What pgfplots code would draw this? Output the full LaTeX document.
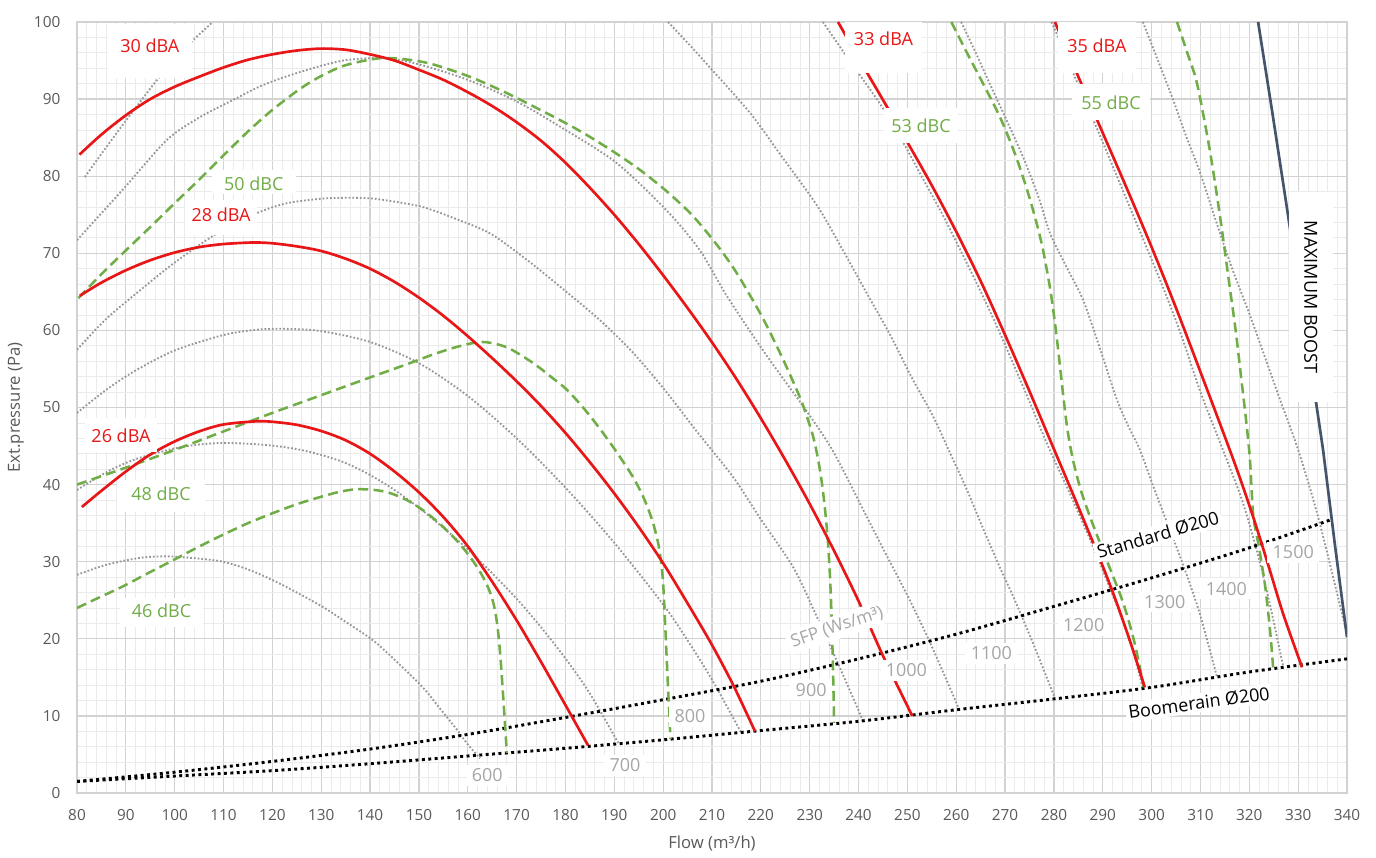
\documentclass[border=0pt]{standalone}
\usepackage{fontspec}
\setmainfont{Open Sans}
\usepackage{pgfplots}
\pgfplotsset{compat=1.18}
\usetikzlibrary{calc}
\definecolor{cRed}{RGB}{232,22,22}
\definecolor{cGreen}{RGB}{112,173,71}
\definecolor{cGray}{RGB}{150,150,150}
\definecolor{cNavy}{RGB}{68,84,106}
\definecolor{cTick}{RGB}{89,89,89}
\definecolor{cNum}{RGB}{166,166,166}
\definecolor{cMajor}{RGB}{210,210,210}
\definecolor{cMinor}{RGB}{235,235,235}
\pgfplotsset{
  redc/.style={cRed, line width=2pt, smooth, tension=0.5},
  grnc/.style={cGreen, line width=1.9pt, dash pattern=on 7.5pt off 4pt, smooth, tension=0.5},
  sfp/.style={cGray, line width=1.4pt, dash pattern=on 1.3pt off 1.5pt, smooth, tension=0.5},
  duct/.style={black, line width=2.2pt, dash pattern=on 2.2pt off 2.6pt, smooth},
}
\tikzset{
  lab/.style n args={3}{fill=white, inner xsep=0pt, inner ysep=0pt, minimum width=#1, text height=#2, text depth=#3, anchor=base, font=\fontsize{13.5}{16}\selectfont},
  num/.style={fill=white, inner xsep=4pt, inner ysep=3pt, text=cNum, font=\fontsize{13.5}{16}\selectfont},
}
\begin{document}
\begin{tikzpicture}
\begin{axis}[
  scale only axis, width=952.5pt, height=578.25pt,
  xmin=80, xmax=340, ymin=0, ymax=100,
  xtick={80,90,...,340}, ytick={0,10,...,100},
  minor x tick num=4, minor y tick num=4,
  grid=both,
  major grid style={cMajor, line width=0.9pt},
  minor grid style={cMinor, line width=0.6pt},
  axis line style={cMajor, line width=0.9pt},
  major tick length=0pt, minor tick length=0pt,
  /pgf/number format/assume math mode=true,
  tick label style={font=\fontsize{11.5}{13}\selectfont, text=cTick},
  xticklabel style={anchor=center, yshift=-16.5pt},
  yticklabel style={anchor=east, xshift=-9pt},
  xlabel={Flow (m³/h)}, ylabel={Ext.pressure (Pa)},
  every axis x label/.style={at={(axis description cs:0.5,-0.066)}, anchor=center, font=\fontsize{12.5}{14}\selectfont, text=cTick},
  every axis y label/.style={at={(axis description cs:-0.048,0.5)}, anchor=center, rotate=90, font=\fontsize{12.5}{14}\selectfont, text=cTick},
]
\coordinate (sw) at (rel axis cs:0,0);
\coordinate (ne) at (rel axis cs:1,1);

% SFP iso-lines
\addplot[sfp] coordinates {(80,28.3)(86,29.6)(92.9,30.5)(98,30.7)(101.1,30.6)(105,30.4)(109.9,30)(115,29)(120.1,27.6)(125,26)(130.4,24.1)(135,22.2)(140.6,19.8)(145,17.3)(150.8,13.7)(154,11.2)(157.8,8.2)(160,6.3)(162.5,4.5)};
\addplot[sfp] coordinates {(80,39.3)(86,41.6)(92,43.3)(100,44.7)(105,45.2)(110,45.4)(115,45.3)(120,45.05)(125,44.6)(130,43.85)(135,42.8)(140,41.25)(145,39.3)(150,37.0)(155,34.4)(160,31.6)(165,28.5)(170,25.2)(175,21.5)(180,17.45)(185,12.9)(190.8,6.5)};
\addplot[sfp] coordinates {(80,49.3)(86,52.3)(92,54.8)(100,57.4)(110,59.4)(117,60.1)(123,60.2)(130,59.9)(140,58.5)(150,55.75)(160,51.5)(170,46.0)(180,39.6)(190,32.45)(200,24.45)(205,19.8)(210,14.7)(216,7.8)};
\addplot[sfp] coordinates {(80,57.5)(86,61.5)(92.9,65.2)(100,68.8)(108.7,72.6)(116.8,75.2)(123,76.5)(130.4,77.1)(136,77.2)(140.6,77.1)(145,76.7)(150.8,76)(157,74.6)(164.5,72.6)(172,69.2)(180,65.1)(187.1,61.3)(194,57)(200.8,51.9)(207,46.8)(214.3,41)(220,35.5)(226.6,29.3)(231,23.5)(236,16.5)(240.9,9.4)};
\addplot[sfp] coordinates {(80,71.7)(85,75.2)(90,78.7)(98.4,84.7)(105,87.6)(112,89.9)(118,91.8)(125.6,93.5)(134.5,95)(143,95.3)(150,94.5)(160,92.5)(170,89.7)(180,86)(190.5,81.7)(200.8,75.5)(207.5,70.4)(213,64.5)(219.8,58)(224.5,53.8)(229.4,49.5)(234.8,44.3)(241.7,35.8)(246,30.5)(250.5,25)(255,19)(260.5,11)};
\addplot[sfp] coordinates {(81.6,79.9)(85,82.9)(90,87.2)(96.4,92.5)(100,95.2)(103.7,97.6)(107.8,100)};
\addplot[sfp] coordinates {(201,100)(205,97.3)(210,93.8)(217.8,88.2)(224,82.8)(231.5,76.2)(236.8,70.4)(241.7,64.8)(246.4,59.5)(250.8,54)(255.3,48.8)(258.8,44)(262.2,39.3)(265.5,34.3)(268.9,29.3)(272,25)(276,19)(280.2,12.3)};
\addplot[sfp] coordinates {(232.7,100)(237.6,95.5)(240.3,93.1)(245,88.8)(249.2,84.3)(253.5,79.3)(257.7,74.4)(264.5,65.7)(268.9,59.7)(274.5,51.5)(278.8,45)(283.5,38.5)(288,32)(291,27.3)(293.5,23.3)(296,18.8)(298.2,13.6)};
\addplot[sfp] coordinates {(261,100)(264,96)(267,91.8)(270.5,87)(274,82)(277,77)(279.2,72.6)(282.6,68.2)(286,63.9)(289.5,57.5)(292.9,51)(295.3,47.5)(297.6,44.5)(300.5,39.5)(303.5,34.5)(306.5,29.5)(309.5,24)(311.5,19.5)(313.4,15)};
\addplot[sfp] coordinates {(279.5,100)(282,96.4)(284,93.3)(288.2,87.1)(295.2,76.5)(302,66.1)(306,59.5)(310,52)(314.6,44.5)(318.5,38)(321.5,31.5)(324.2,24.5)(326.9,16.5)};
\addplot[sfp] coordinates {(298.2,100)(301,95.5)(304.4,89.9)(307,85.3)(309.9,80.5)(313,74.5)(316.5,68)(320.1,62)(323.5,56)(326.3,51)(330,44.5)(334,36)(338.5,24.5)(340,20.5)};

% duct system curves
\addplot[duct] coordinates {(80,1.5)(100,2.7)(120,4.1)(140,5.7)(160,7.6)(180,9.8)(200,12.1)(220,14.5)(240,17.4)(260,20.6)(280,24.2)(300,27.9)(320,31.8)(336.5,35.4)};
\addplot[duct] coordinates {(80,1.5)(100,2.2)(120,2.9)(140,3.8)(160,4.8)(180,5.8)(200,6.9)(220,8.1)(240,9.3)(260,10.8)(280,12.2)(300,13.7)(320,15.7)(340,17.4)};

% dBC curves
\addplot[grnc] coordinates {(80.3,64.2)(85,67.3)(90.2,70.5)(95,73.4)(100,76.5)(104.6,79.3)(110,82.7)(115,85.8)(120,88.6)(125.6,91.3)(130,93)(135,94.4)(142,95.3)(148,95.1)(152.9,94.5)(160,93)(166.6,91.2)(173,89.2)(180.3,86.8)(185,85.1)(190.5,82.9)(195.5,80.7)(200.8,78)(206,74.9)(211,71.1)(215,67.5)(219.8,62.3)(223,58.3)(225.8,54.5)(228.5,50.5)(230.8,46)(232.2,41.5)(233.1,37)(233.8,32)(234.3,26)(234.7,18)(235,9.1)};
\addplot[grnc] coordinates {(80,40)(90,42.2)(100,44.5)(110,46.9)(120,49.3)(130,51.6)(140,53.9)(147.5,55.6)(153,56.9)(158,57.9)(163,58.5)(168,57.8)(173.3,55.8)(177,54)(180.3,52.3)(184,49.7)(187.1,47.2)(190.5,44.2)(193.8,41)(196,38.3)(197.8,35.3)(199.1,32)(199.9,28)(200.4,22)(200.9,15)(201.5,7.0)};
\addplot[grnc] coordinates {(80,24)(84,25.2)(89.4,26.8)(94.5,28.5)(99.7,30.2)(104.8,31.9)(109.9,33.5)(115,35)(120.1,36.3)(125.2,37.5)(130.4,38.5)(134,39.1)(137.3,39.4)(141,39.3)(144.1,38.9)(147.5,38)(150.8,36.7)(154.3,34.9)(157.8,32.7)(160.5,30.6)(162.6,28.6)(164.2,26.6)(165.3,24.5)(166.1,21.5)(166.7,17.5)(167.3,12)(168,5.2)};
\addplot[grnc] coordinates {(259,100)(262.2,96)(265.5,92)(269,87.6)(272.2,82.6)(275,77.2)(277.4,71.5)(279.2,65.5)(280.4,60)(281.3,55)(282,51)(282.8,47)(283.9,43.2)(285.5,39.3)(287.4,35.8)(290.8,30.2)(294.1,24.8)(296.5,19.5)(298.4,13.7)};
\addplot[grnc] coordinates {(305.2,100)(307.3,96)(309.3,92)(311.9,83.4)(314,74.8)(315.8,66.5)(317.2,60)(318.4,53.5)(319.4,48)(320.1,43.5)(320.5,39)(320.9,35.5)(322,31.8)(323.2,27)(324.1,22)(324.6,18.5)(324.9,16)};

% dBA curves
\addplot[redc] coordinates {(80.5,82.8)(85,85.4)(90,87.9)(95,90.0)(100,91.6)(105,92.9)(110,94.1)(115,95.1)(120,95.8)(125,96.3)(130,96.55)(135,96.4)(140,95.8)(145,95)(150,93.8)(155,92.5)(160,90.9)(165,89.1)(170,87.0)(175,84.6)(180,81.75)(185,78.5)(190,75.0)(195,71.2)(200,67.15)(205,62.9)(210,58.45)(215,53.7)(220,48.6)(225,43.2)(230,37.5)(235,31.4)(240,24.9)(245,17.8)(251,10.0)};
\addplot[redc] coordinates {(80.6,64.5)(85,66.2)(90,67.8)(95,69.1)(100,70.1)(105,70.8)(110,71.2)(116,71.4)(120,71.3)(125,70.9)(130,70.3)(135,69.3)(140,68.0)(145,66.3)(150,64.25)(155,61.9)(160,59.25)(165,56.4)(170,53.4)(175,50.2)(180,46.7)(185,42.9)(190,38.85)(195,34.5)(200,29.8)(205,24.6)(210,19.2)(214.5,13.8)(218.8,8.0)};
\addplot[redc] coordinates {(81,37.1)(85,39.2)(90,41.7)(95,43.9)(100,45.6)(105,46.9)(110,47.8)(116.5,48.2)(120,48.15)(125,47.75)(130,46.95)(135,45.75)(140,44.0)(145,41.7)(150,39.0)(155,35.8)(160,32.0)(165,27.4)(170,22.4)(175,17.0)(180,11.4)(184.6,6.2)};
\addplot[redc] coordinates {(235.8,100)(240,95.3)(245,89.9)(250,84.4)(255,78.8)(260,72.8)(265,66.4)(270,59.4)(275,52.1)(280,44.6)(285,37.1)(290,29.4)(293,24.4)(296,18.9)(298.6,13.7)};
\addplot[redc] coordinates {(280.2,100)(285,92.9)(290,85.6)(295,78.3)(300,70.8)(305,62.9)(310,54.6)(315,46.2)(318,41)(321,35.4)(324,29.3)(327,23.1)(330.8,16.3)};

% maximum boost
\addplot[cNavy, line width=2pt] coordinates {(321.8,100)(324.7,88.3)(327.6,76.3)(331.4,60.3)(335.1,44.5)(337.5,32.3)(340,20.2)};

% labels
\node[lab={63pt}{21.75pt}{18.5pt}, text=cRed] at (axis cs:94.9,96.0) {30 dBA};
\node[lab={54pt}{16.5pt}{9.75pt}, text=cRed] at (axis cs:109.5,74.1) {28 dBA};
\node[lab={54pt}{18pt}{7.5pt}, text=cRed] at (axis cs:89,45.5) {26 dBA};
\node[lab={63pt}{15pt}{3pt}, text=cGreen] at (axis cs:116.2,78.2) {50 dBC};
\node[lab={66pt}{15pt}{9pt}, text=cGreen] at (axis cs:97.2,38.0) {48 dBC};
\node[lab={62pt}{15pt}{6.75pt}, text=cGreen] at (axis cs:97.3,22.7) {46 dBC};
\node[lab={58pt}{17pt}{21pt}, text=cRed] at (axis cs:245.1,97.0) {33 dBA};
\node[lab={58.5pt}{22.5pt}{15.75pt}, text=cRed] at (axis cs:288.8,96.1) {35 dBA};
\node[lab={55.5pt}{18pt}{8.25pt}, text=cGreen] at (axis cs:252.8,85.7) {53 dBC};
\node[lab={58.5pt}{19.5pt}{7.5pt}, text=cGreen] at (axis cs:291.7,88.6) {55 dBC};
\node[fill=white, rotate=-90, minimum width=157.5pt, minimum height=33pt, inner sep=0pt, font=\fontsize{13.5}{16}\selectfont] at (axis cs:332.6,64.3) {MAXIMUM BOOST};
\node[fill=white, rotate=16.4, inner sep=2pt, font=\fontsize{13.5}{16}\selectfont] at (axis cs:301.3,33.5) {Standard Ø200};
\node[fill=white, rotate=7.7, inner sep=2pt, font=\fontsize{13.5}{16}\selectfont] at (axis cs:309.7,11.7) {Boomerain Ø200};
\node[fill=white, rotate=18.7, inner sep=3pt, text=cNum, font=\fontsize{13}{16}\selectfont] at (axis cs:235.6,21.5) {SFP (Ws/m³)};
\node[num] at (axis cs:164.0,2.3) {600};
\node[num] at (axis cs:192.2,3.6) {700};
\node[num] at (axis cs:205.5,10.0) {800};
\node[num] at (axis cs:230.3,13.4) {900};
\node[num] at (axis cs:249.8,15.9) {1000};
\node[num] at (axis cs:267.2,18.1) {1100};
\node[num] at (axis cs:286.1,21.8) {1200};
\node[num] at (axis cs:302.7,24.8) {1300};
\node[num] at (axis cs:315.3,26.5) {1400};
\node[num] at (axis cs:329.0,31.2) {1500};
\end{axis}
\pgfresetboundingbox
\path ($(sw)+(-57.75pt,-48pt)$) rectangle ($(ne)+(21.75pt,16.5pt)$);
\end{tikzpicture}
\end{document}
